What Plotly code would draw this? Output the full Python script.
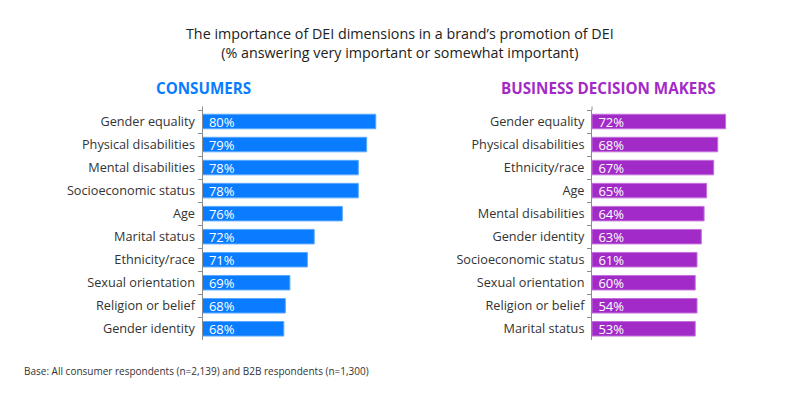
import plotly.graph_objects as go

# ---- data ----
title_text = "The importance of DEI dimensions in a brand’s promotion of DEI<br>(% answering very important or somewhat important)"
footnote = "Base: All consumer respondents (n=2,139) and B2B respondents (n=1,300)"

consumer_categories = ["Gender equality", "Physical disabilities", "Mental disabilities",
                       "Socioeconomic status", "Age", "Marital status", "Ethnicity/race",
                       "Sexual orientation", "Religion or belief", "Gender identity"]
consumer_values = [80.0, 78.8, 77.7, 77.7, 75.6, 71.9, 71.0, 68.7, 68.1, 67.9]
consumer_labels = ["80%", "79%", "78%", "78%", "76%", "72%", "71%", "69%", "68%", "68%"]

bdm_categories = ["Gender equality", "Physical disabilities", "Ethnicity/race", "Age",
                  "Mental disabilities", "Gender identity", "Socioeconomic status",
                  "Sexual orientation", "Religion or belief", "Marital status"]
# bar lengths as drawn in the source picture
bdm_values = [72.0, 68.9, 67.3, 64.5, 63.5, 62.4, 60.7, 60.0, 60.7, 60.0]
# percentages printed on the bars
bdm_labels = ["72%", "68%", "67%", "65%", "64%", "63%", "61%", "60%", "54%", "53%"]

# axis starts (the source chart's value axes do not begin at zero)
consumer_axis_min = 57.2
bdm_axis_min = 19.2

BLUE = "#0A7CFF"
BLUE_EDGE = "#5AA8FF"
PURPLE = "#A22BC8"
PURPLE_EDGE = "#C46FDD"
AXIS_GREY = "#8c8c8c"

OFF = 8  # page body margin
W, H = 800 - OFF, 397 - OFF
FONT = "Open Sans"

def fx(px):
    return (px - OFF) / W

def fy(py):
    return (H - (py - OFF)) / H

fig = go.Figure()

fig.add_trace(go.Bar(
    y=consumer_categories, x=[v - consumer_axis_min for v in consumer_values],
    base=consumer_axis_min, orientation="h",
    text=consumer_labels, texttemplate="&nbsp;%{text}",
    textposition="inside", insidetextanchor="start",
    textfont=dict(color="white", size=13, family=FONT),
    marker=dict(color=BLUE, line=dict(color=BLUE_EDGE, width=1)),
    xaxis="x", yaxis="y", hoverinfo="skip",
))
fig.add_trace(go.Bar(
    y=bdm_categories, x=[v - bdm_axis_min for v in bdm_values],
    base=bdm_axis_min, orientation="h",
    text=bdm_labels, texttemplate="&nbsp;%{text}",
    textposition="inside", insidetextanchor="start",
    textfont=dict(color="white", size=13, family=FONT),
    marker=dict(color=PURPLE, line=dict(color=PURPLE_EDGE, width=1)),
    xaxis="x2", yaxis="y2", hoverinfo="skip",
))

ydom = [fy(340.3), fy(110)]
yax_common = dict(
    autorange="reversed", showgrid=False, zeroline=False,
    showline=True, linecolor=AXIS_GREY, linewidth=1,
    ticks="outside", tickson="boundaries", ticklen=4, tickcolor=AXIS_GREY,
    tickfont=dict(size=12.7, color="#333333", family=FONT),
    ticklabelstandoff=4, domain=ydom,
)
xax_common = dict(showgrid=False, zeroline=False, showline=False,
                  showticklabels=False, ticks="", fixedrange=True)

left_x0, left_x1 = 202.5, 380
right_x0, right_x1 = 592, 730

fig.update_layout(
    width=W, height=H,
    margin=dict(l=0, r=0, t=0, b=0),
    paper_bgcolor="white", plot_bgcolor="white",
    showlegend=False, bargap=0.37,
    font=dict(family=FONT, color="#333333"),
    uniformtext=dict(minsize=13, mode="show"),
    xaxis=dict(domain=[fx(left_x0), fx(left_x1)],
               range=[consumer_axis_min, consumer_axis_min + (left_x1 - left_x0) / 7.6],
               anchor="y", **xax_common),
    yaxis=dict(anchor="x", **yax_common),
    xaxis2=dict(domain=[fx(right_x0), fx(right_x1)],
                range=[bdm_axis_min, bdm_axis_min + (right_x1 - right_x0) / 2.53],
                anchor="y2", **xax_common),
    yaxis2=dict(anchor="x2", **yax_common),
    shapes=[
        dict(type="line", xref="paper", yref="paper",
             x0=fx(left_x0), x1=fx(left_x0), y0=fy(110), y1=fy(106.5),
             line=dict(color=AXIS_GREY, width=1)),
        dict(type="line", xref="paper", yref="paper",
             x0=fx(right_x0), x1=fx(right_x0), y0=fy(110), y1=fy(106.5),
             line=dict(color=AXIS_GREY, width=1)),
    ],
    annotations=[
        dict(text=title_text, x=fx(400), y=fy(22), xref="paper", yref="paper",
             xanchor="center", yanchor="top", showarrow=False,
             font=dict(size=14.3, color="#222222", family=FONT)),
        dict(text="<b>CONSUMERS</b>", x=fx(154), y=fy(88), xref="paper", yref="paper",
             xanchor="left", yanchor="middle", showarrow=False,
             font=dict(size=15.2, color=BLUE, family=FONT)),
        dict(text="<b>BUSINESS DECISION MAKERS</b>", x=fx(718), y=fy(88), xref="paper", yref="paper",
             xanchor="right", yanchor="middle", showarrow=False,
             font=dict(size=15.2, color=PURPLE, family=FONT)),
        dict(text=footnote, x=fx(22), y=fy(371), xref="paper", yref="paper",
             xanchor="left", yanchor="middle", showarrow=False,
             font=dict(size=10, color="#333333", family=FONT)),
    ],
)

fig.write_html("out.html")
